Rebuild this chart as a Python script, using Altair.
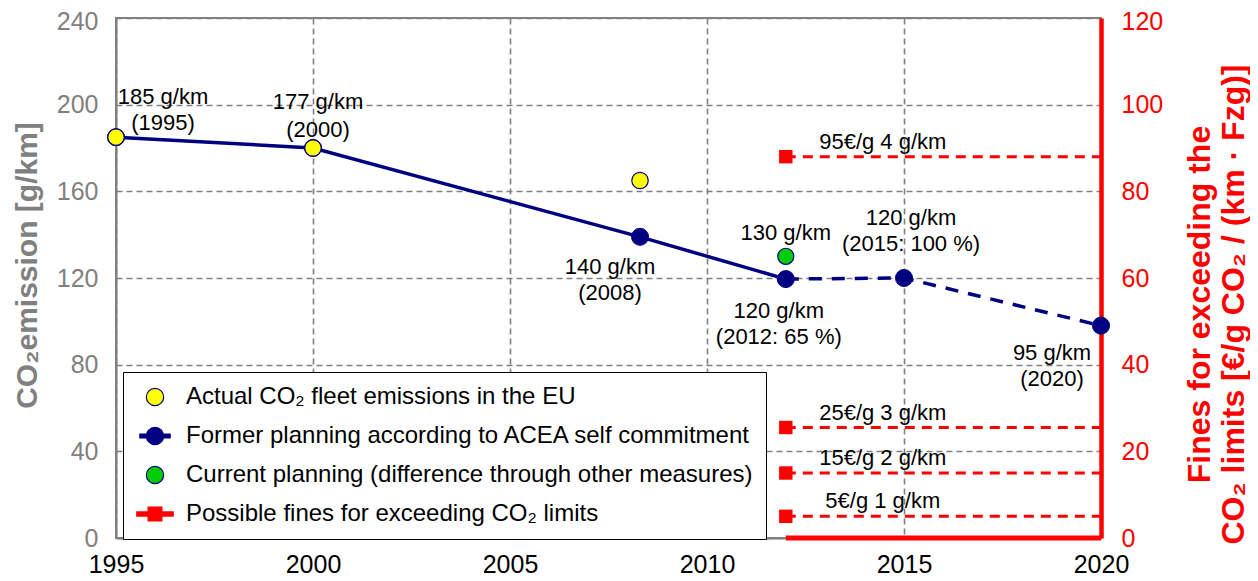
import altair as alt
import pandas as pd

# ---------------- data ----------------
year_ticks = [1995, 2000, 2005, 2010, 2015, 2020]
left_ticks = [0, 40, 80, 120, 160, 200, 240]
right_ticks = [0, 20, 40, 60, 80, 100, 120]

actual_years = [1995, 2000, 2008.3]
actual_vals = [185, 180, 165]

former_years = [1995, 2000, 2008.3, 2012, 2015, 2020]
former_vals = [185, 180, 139, 119.5, 120, 98]
former_solid_n = 4          # first 4 points: solid line, rest dashed

current_years = [2012]
current_vals = [130]

fine_texts = ["95€/g 4 g/km", "25€/g 3 g/km", "15€/g 2 g/km", "5€/g 1 g/km"]
fine_levels = [88, 25.5, 15, 5]
fine_from = 2012
fine_to = 2020

legend_labels = [
    "Actual CO₂ fleet emissions in the EU",
    "Former planning according to ACEA self commitment",
    "Current planning (difference through other measures)",
    "Possible fines for exceeding CO₂ limits",
]

# point annotations: (line1, line2, year, value)
point_labels = [
    ("185 g/km", "(1995)", 1995, 185),
    ("177 g/km", "(2000)", 2000, 180),
    ("140 g/km", "(2008)", 2008.3, 139),
    ("130 g/km", None, 2012, 130),
    ("120 g/km", "(2012: 65 %)", 2012, 119.5),
    ("120 g/km", "(2015: 100 %)", 2015, 120),
    ("95 g/km", "(2020)", 2020, 98),
]
# pixel offsets (style) for each annotation: (dx, dy line1, dy line2)
label_offsets = [
    (47, -40, -14),
    (5, -46, -18),
    (-30, 30, 56),
    (0, -23, 0),
    (-7, 32, 58),
    (7, -60, -34),
    (-49, 27, 53),
]

# ---------------- style ----------------
FONT = "Liberation Sans"
GRAY = "#808080"
NAVY = "#000080"
RED = "#FF0000"
YELLOW = "#FFFF00"
GREEN = "#00CC00"

navy_sym = ("M -1.75 -0.23 L 1.75 -0.23 L 1.75 0.23 L -1.75 0.23 Z "
            "M -1 0 A 1 1 0 1 1 1 0 A 1 1 0 1 1 -1 0 Z")
red_sym = ("M -2.1 -0.24 L 2.1 -0.24 L 2.1 0.24 L -2.1 0.24 Z "
           "M -0.8 -0.8 L 0.8 -0.8 L 0.8 0.8 L -0.8 0.8 Z")

x_enc = alt.X(
    "year:Q",
    scale=alt.Scale(domain=[1995, 2020], nice=False, zero=False),
    axis=alt.Axis(values=year_ticks, format="d", title=None, labelFontSize=25,
                  labelColor="black", labelPadding=14, labelFlush=False,
                  labelOverlap=False, ticks=False, grid=True, gridColor=GRAY,
                  gridDash=[6, 4], gridWidth=1.6, domainColor=GRAY, domainWidth=2),
)

yL = alt.Y(
    "val:Q",
    scale=alt.Scale(domain=[0, 240], nice=False),
    axis=alt.Axis(values=left_ticks, title="CO₂emission [g/km]", titleColor=GRAY,
                  titleFontSize=30, titleFontWeight="bold", titleAngle=270,
                  titleX=-89, titleY=247, titleAlign="center", titleBaseline="middle",
                  labelColor=GRAY, labelFontSize=25, labelPadding=18, labelFlush=False,
                  labelOffset={"condition": {"test": "datum.value == 240", "value": 3}, "value": 0},
                  ticks=False, grid=True, gridColor=GRAY, gridDash=[6, 4], gridWidth=1.6,
                  domainColor=GRAY, domainWidth=2),
)

yR = alt.Y(
    "lvl:Q",
    scale=alt.Scale(domain=[0, 120], nice=False),
    axis=alt.Axis(orient="right", values=right_ticks,
                  title=["Fines for exceeding the", "CO₂ limits [€/g CO₂ / (km · Fzg)]"],
                  titleColor=RED, titleFontSize=32, titleFontWeight="bold",
                  titleAngle=270, titleX=98, titleY=286, titleAlign="center",
                  titleBaseline="middle", titleLineHeight=34,
                  labelColor=RED, labelFontSize=25, labelPadding=20, labelFlush=False,
                  labelOffset={"condition": {"test": "datum.value == 120", "value": 3}, "value": 0},
                  ticks=False, grid=False, domainColor=RED, domainWidth=4.5),
)

# ---------------- left layers ----------------
actual_df = pd.DataFrame({"year": actual_years, "val": actual_vals})
former_df = pd.DataFrame({"year": former_years, "val": former_vals})
solid_df = former_df.iloc[:former_solid_n]
dashed_df = former_df.iloc[former_solid_n - 1:]
current_df = pd.DataFrame({"year": current_years, "val": current_vals})

solid_line = alt.Chart(solid_df).mark_line(color=NAVY, strokeWidth=3.5).encode(x=x_enc, y=yL)
dashed_line = alt.Chart(dashed_df).mark_line(color=NAVY, strokeWidth=3.5, strokeDash=[13, 10]).encode(x=x_enc, y=yL)
navy_pts = alt.Chart(former_df).mark_point(filled=True, size=290, fill=NAVY, stroke=NAVY,
                                           strokeWidth=1, opacity=1).encode(x=x_enc, y=yL)
yellow_pts = alt.Chart(actual_df).mark_point(filled=True, size=270, fill=YELLOW, stroke=NAVY,
                                             strokeWidth=1.2, opacity=1).encode(x=x_enc, y=yL)
green_pts = alt.Chart(current_df).mark_point(filled=True, size=260, fill=GREEN, stroke=NAVY,
                                             strokeWidth=1.2, opacity=1).encode(x=x_enc, y=yL)

text_layers = []
for (l1, l2, yr, v), (dx, dy1, dy2) in zip(point_labels, label_offsets):
    df = pd.DataFrame({"year": [yr], "val": [v], "t1": [l1], "t2": [l2 or ""]})
    text_layers.append(alt.Chart(df).mark_text(fontSize=22, color="black", align="center",
                                               baseline="middle", dx=dx, dy=dy1)
                       .encode(x=x_enc, y=yL, text="t1:N"))
    if l2:
        text_layers.append(alt.Chart(df).mark_text(fontSize=22, color="black", align="center",
                                                   baseline="middle", dx=dx, dy=dy2)
                           .encode(x=x_enc, y=yL, text="t2:N"))

legend_cfg = dict(title=None, orient="none", legendX=7, legendY=354, fillColor="white",
                  strokeColor="#000000", padding=13, symbolOffset=7, symbolSize=300,
                  symbolStrokeWidth=1.2, labelFontSize=24, labelColor="black",
                  labelOffset=19, labelLimit=2000, rowPadding=15, labelFont=FONT)
leg_df = pd.DataFrame({"series": legend_labels, "year": [1995] * 4, "val": [0] * 4})
legend_layer = (
    alt.Chart(leg_df)
    .transform_filter("datum.val > 1000")
    .mark_point(filled=True, opacity=1)
    .encode(
        x=x_enc, y=yL,
        fill=alt.Fill("series:N", scale=alt.Scale(domain=legend_labels,
                      range=[YELLOW, NAVY, GREEN, RED]), legend=alt.Legend(**legend_cfg)),
        stroke=alt.Stroke("series:N", scale=alt.Scale(domain=legend_labels,
                          range=[NAVY, NAVY, NAVY, RED]), legend=alt.Legend(**legend_cfg)),
        shape=alt.Shape("series:N", scale=alt.Scale(domain=legend_labels,
                        range=["circle", navy_sym, "circle", red_sym]), legend=alt.Legend(**legend_cfg)),
    )
)

left = alt.layer(solid_line, dashed_line, navy_pts, yellow_pts, green_pts, *text_layers, legend_layer)

# ---------------- right layers (fines) ----------------
fine_df = pd.DataFrame({"lvl": fine_levels, "txt": fine_texts, "year": [fine_from] * len(fine_levels)})
fine_lines_df = pd.DataFrame({
    "lvl": [l for l in fine_levels for _ in (0, 1)],
    "year": [y for _ in fine_levels for y in (fine_from, fine_to)],
})
fine_lines = alt.Chart(fine_lines_df).mark_line(color=RED, strokeWidth=3, strokeDash=[10, 7]).encode(
    x=x_enc, y=yR, detail="lvl:N")
fine_sq = alt.Chart(fine_df).mark_square(size=180, color=RED, opacity=1).encode(x=x_enc, y=yR)
fine_txt = alt.Chart(fine_df).mark_text(fontSize=22, color="black", align="center",
                                        baseline="middle", dx=97, dy=-15).encode(x=x_enc, y=yR, text="txt:N")
base_df = pd.DataFrame({"year": [fine_from], "year2": [fine_to], "lvl": [0]})
fine_base = alt.Chart(base_df).mark_rule(color=RED, strokeWidth=5).encode(x=x_enc, x2="year2:Q", y=yR)

right = alt.layer(fine_lines, fine_sq, fine_txt, fine_base)

chart = (
    alt.layer(left, right)
    .resolve_scale(y="independent")
    .properties(width=985, height=520,
                padding={"left": 108, "top": 10, "right": 149, "bottom": 40},
                autosize=alt.AutoSizeParams(type="none"))
    .configure(font=FONT)
    .configure_view(stroke=GRAY, strokeWidth=2)
)

chart.save("out.html", embed_options={"renderer": "svg", "actions": False})
